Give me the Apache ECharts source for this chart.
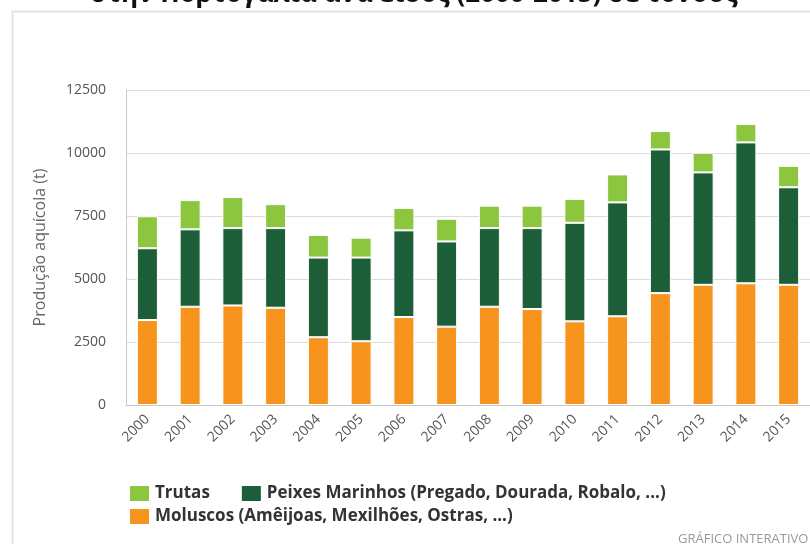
<!DOCTYPE html>
<html>
<head>
<meta charset="utf-8">
<script src="https://cdn.jsdelivr.net/npm/echarts@6/dist/echarts.min.js"></script>
<style>
    html, body { margin: 0; padding: 0; background: #fff; }
    #aqua-chart { width: 810px; height: 544px; }
</style>
</head>
<body>
<div id="aqua-chart"></div>
<script>
// anos
const years = ['2000', '2001', '2002', '2003', '2004', '2005', '2006', '2007',
    '2008', '2009', '2010', '2011', '2012', '2013', '2014', '2015'];

// produção em toneladas, por grupo
const moluscos = [3370, 3900, 3950, 3860, 2690, 2530, 3490, 3110,
    3900, 3810, 3320, 3520, 4440, 4770, 4830, 4770];
const peixesMarinhos = [2850, 3070, 3070, 3160, 3160, 3320, 3440, 3380,
    3120, 3210, 3910, 4520, 5700, 4460, 5590, 3870];
const trutas = [1270, 1160, 1230, 950, 900, 790, 890, 900,
    890, 890, 950, 1110, 730, 780, 730, 850];

const yTicks = [0, 2500, 5000, 7500, 10000, 12500];

const names = {
    trutas: 'Trutas',
    peixes: 'Peixes Marinhos (Pregado, Dourada, Robalo, ...)',
    moluscos: 'Moluscos (Amêijoas, Mexilhões, Ostras, ...)'
};

let containerDom = document.getElementById('aqua-chart')
let myChart = echarts.init(containerDom)

const barStyle = (color) => ({
    color: color,
    borderColor: '#fff',
    borderWidth: 1
});

const legendText = {
    fontSize: 17,
    fontWeight: 'bold',
    color: '#333'
};

let option = {
    animation: false,
    textStyle: {
        fontFamily: 'Open Sans'
    },
    graphic: [
        {
            type: 'rect',
            left: 10,
            top: 9,
            shape: { width: 810, height: 540 },
            style: { fill: 'none', stroke: '#e3e3e3', lineWidth: 2 }
        },
        {
            type: 'text',
            left: 90,
            top: -18,
            style: {
                text: 'στην Πορτογαλία ανά είδος (2000-2015) σε τόνους',
                font: 'bold 26px "Open Sans"',
                fill: '#111'
            }
        },
        {
            type: 'text',
            left: 678,
            top: 533,
            style: {
                text: 'GRÁFICO INTERATIVO',
                font: '13px "Open Sans"',
                fill: '#999'
            }
        }
    ],
    legend: [
        {
            data: [names.trutas, names.peixes],
            left: 123,
            top: 479,
            itemWidth: 21,
            itemHeight: 17,
            itemGap: 30,
            icon: 'rect',
            textStyle: legendText
        },
        {
            data: [names.moluscos],
            left: 123,
            top: 502,
            itemWidth: 21,
            itemHeight: 17,
            icon: 'rect',
            textStyle: legendText
        }
    ],
    grid: {
        left: 126,
        top: 90,
        width: 686,
        height: 315
    },
    xAxis: {
        type: 'category',
        data: years,
        axisLine: { lineStyle: { color: '#c8c8c8' } },
        axisTick: { length: 10, lineStyle: { color: '#c8c8c8' } },
        axisLabel: {
            rotate: 45,
            fontSize: 14,
            color: '#555',
            margin: 12
        }
    },
    yAxis: {
        type: 'value',
        min: 0,
        max: yTicks[yTicks.length - 1],
        interval: 2500,
        name: 'Produção aquícola (t)',
        nameLocation: 'middle',
        nameGap: 78,
        nameTextStyle: { fontSize: 16, color: '#666' },
        axisLine: { show: true, lineStyle: { color: '#c8c8c8' } },
        axisLabel: {
            fontSize: 14,
            color: '#555',
            margin: 20,
            formatter: (v) => String(v)
        },
        splitLine: { lineStyle: { color: '#dcdcdc' } }
    },
    series: [
        {
            name: names.moluscos,
            type: 'bar',
            stack: 'total',
            barWidth: 21,
            data: moluscos,
            itemStyle: barStyle('#f7941e')
        },
        {
            name: names.peixes,
            type: 'bar',
            stack: 'total',
            barWidth: 21,
            data: peixesMarinhos,
            itemStyle: barStyle('#1b5e37')
        },
        {
            name: names.trutas,
            type: 'bar',
            stack: 'total',
            barWidth: 21,
            data: trutas,
            itemStyle: barStyle('#8cc63e')
        }
    ]
};
myChart.setOption(option);
</script>
</body>
</html>
